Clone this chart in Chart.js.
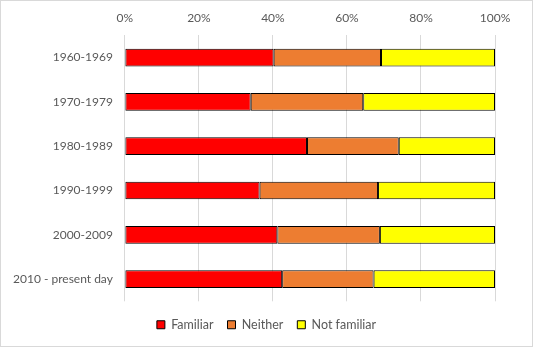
<!DOCTYPE html>
<html>
<head>
<meta charset="utf-8">
<script src="https://cdn.jsdelivr.net/npm/chart.js@4/dist/chart.umd.min.js"></script>
<style>
  html, body { margin: 0; padding: 0; background: #fff; }
  #wrap {
    width: 533px; height: 347px; box-sizing: border-box;
    border: 1px solid #d9d9d9; position: relative;
  }
</style>
</head>
<body>
<div id="wrap"><canvas id="myChart"></canvas></div>
<script>
const decades = ["1960-1969", "1970-1979", "1980-1989", "1990-1999", "2000-2009", "2010 - present day"];
const familiar = [40.2, 34.0, 49.2, 36.4, 41.2, 42.5];
const neither = [29.0, 30.4, 24.8, 32.0, 27.7, 24.7];
const notFamiliar = [30.8, 35.6, 26.0, 31.6, 31.1, 32.8];
const pctTicks = [0, 20, 40, 60, 80, 100];

const textGrey = "#595959";
Chart.defaults.font.family = "Lato, 'Liberation Sans', sans-serif";
Chart.defaults.font.size = 12;
Chart.defaults.color = textGrey;

function series(label, values, colour) {
  return {
    label: label,
    data: values,
    backgroundColor: colour,
    borderColor: "#000",
    borderWidth: 1,
    borderSkipped: false,
    barPercentage: 0.8,
    categoryPercentage: 0.5
  };
}

const ctx = document.getElementById("myChart");
new Chart(ctx, {
  type: "bar",
  data: {
    labels: decades,
    datasets: [
      series("Familiar", familiar, "#ff0000"),
      series("Neither", neither, "#ed7d31"),
      series("Not familiar", notFamiliar, "#ffff00")
    ]
  },
  options: {
    indexAxis: "y",
    responsive: true,
    maintainAspectRatio: false,
    animation: false,
    layout: { padding: { top: 0, right: 0, bottom: 5, left: 0 } },
    plugins: {
      legend: {
        position: "bottom",
        // empty title just opens a gap between the plot and the legend row
        title: { display: true, text: " ", font: { size: 1 }, padding: { top: 0, bottom: 2 } },
        labels: { boxWidth: 8, boxHeight: 8, padding: 14, color: textGrey, font: { size: 12.5 } }
      },
      tooltip: { enabled: false }
    },
    scales: {
      x: {
        position: "top",
        stacked: true,
        min: 0,
        max: 100,
        afterBuildTicks: axis => { axis.ticks = pctTicks.map(v => ({ value: v })); },
        // keep the right margin on the axis so the legend stays centred on the canvas
        afterFit: axis => { axis.paddingRight = 37; },
        ticks: { callback: v => v + "%", padding: 10, color: textGrey },
        grid: { color: "#d9d9d9", drawTicks: false },
        border: { display: false }
      },
      y: {
        stacked: true,
        ticks: { padding: 12, color: textGrey },
        grid: { display: false, drawTicks: false },
        border: { display: false }
      }
    }
  }
});
</script>
</body>
</html>
